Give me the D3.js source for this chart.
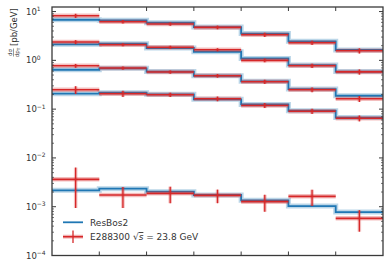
<!DOCTYPE html>
<html><head><meta charset="utf-8">
<script src="https://cdn.jsdelivr.net/npm/d3@7"></script>
<style>body{margin:0;background:#fff}svg{display:block;font-family:"DejaVu Sans",sans-serif}</style>
</head><body><svg id="c" width="390" height="267"></svg>
<script>
const binEdges = [0, 0.2, 0.4, 0.6, 0.8, 1.0, 1.2, 1.4];
const theory1 = [6.79, 6.6, 5.9, 4.81, 3.54, 2.45, 1.63];
const theory2 = [2.13, 2.19, 1.79, 1.50, 1.09, 0.80, 0.59];
const theory3 = [0.641, 0.685, 0.589, 0.483, 0.371, 0.258, 0.188];
const theory4 = [0.207, 0.217, 0.201, 0.159, 0.125, 0.0927, 0.0673];
const theory5 = [0.00217, 0.00234, 0.00203, 0.00174, 0.00135, 0.00103, 0.000778];
const data1 = [8.2, 6.18, 5.55, 4.74, 3.35, 2.30, 1.57];
const data2 = [2.37, 2.09, 1.85, 1.65, 1.0, 0.774, 0.58];
const data3 = [0.774, 0.695, 0.575, 0.483, 0.364, 0.25, 0.163];
const data4 = [0.25, 0.207, 0.197, 0.163, 0.119, 0.0906, 0.0651];
const data5 = [0.00364, 0.00174, 0.00188, 0.00171, 0.00127, 0.00163, 0.000578];
const err1 = [0.8, 0.5, 0.45, 0.4, 0.33, 0.23, 0.19];
const err2 = [0.22, 0.15, 0.13, 0.12, 0.09, 0.08, 0.07];
const err3 = [0.07, 0.05, 0.045, 0.04, 0.035, 0.027, 0.023];
const err4 = [0.045, 0.03, 0.02, 0.018, 0.014, 0.011, 0.009];
const err5 = [0.0027, 0.0008, 0.0007, 0.00053, 0.00048, 0.0006, 0.00027];
const yTickExps = [-4, -3, -2, -1, 0, 1];
const legendLabels = ["ResBos2", "E288300 "];

const theories = [theory1, theory2, theory3, theory4, theory5];
const datas = [data1, data2, data3, data4, data5];
const errs = [err1, err2, err3, err4, err5];

const svg = d3.select("#c");
const L = 52, R = 383, T = 7, B = 255.5;
const x = d3.scaleLinear().domain([binEdges[0], binEdges[binEdges.length-1]]).range([L, R]);
const y = d3.scaleLog().domain([1e-4, 12.4]).range([B, T]);
const blue = "#1f77b4", red = "#d62728";

const plot = svg.append("g");
// theory step lines
theories.forEach(th => {
  const pts = [];
  th.forEach((v, i) => { pts.push([binEdges[i], v]); pts.push([binEdges[i+1], v]); });
  const line = d3.line().x(d => x(d[0])).y(d => y(d[1]));
  plot.append("path").attr("d", line(pts)).attr("fill", "none")
    .attr("stroke", blue).attr("stroke-opacity", 0.3).attr("stroke-width", 5);
  plot.append("path").attr("d", line(pts)).attr("fill", "none")
    .attr("stroke", blue).attr("stroke-width", 1.8);
});
// data
datas.forEach((dv, g) => {
  dv.forEach((v, i) => {
    const x0 = x(binEdges[i]), x1 = x(binEdges[i+1]), xm = (x0 + x1) / 2;
    plot.append("line").attr("x1", x0).attr("x2", x1).attr("y1", y(v)).attr("y2", y(v))
      .attr("stroke", red).attr("stroke-opacity", 0.3).attr("stroke-width", 4.5);
    plot.append("line").attr("x1", x0).attr("x2", x1).attr("y1", y(v)).attr("y2", y(v))
      .attr("stroke", red).attr("stroke-width", 1.6);
    const e = errs[g][i];
    const lo = Math.max(v - e, 1e-5);
    plot.append("line").attr("x1", xm).attr("x2", xm).attr("y1", y(lo)).attr("y2", y(v + e))
      .attr("stroke", red).attr("stroke-opacity", 0.3).attr("stroke-width", 3.5);
    plot.append("line").attr("x1", xm).attr("x2", xm).attr("y1", y(lo)).attr("y2", y(v + e))
      .attr("stroke", red).attr("stroke-width", 1.3);
  });
});

// axes frame
const ax = svg.append("g").attr("stroke", "#3a3a3a");
ax.append("rect").attr("x", L).attr("y", T).attr("width", R - L).attr("height", B - T)
  .attr("fill", "none").attr("stroke-width", 1.3);
// x ticks (inward, top & bottom)
binEdges.slice(1, -1).forEach(e => {
  ax.append("line").attr("x1", x(e)).attr("x2", x(e)).attr("y1", T).attr("y2", T + 4).attr("stroke-width", 1);
  ax.append("line").attr("x1", x(e)).attr("x2", x(e)).attr("y1", B).attr("y2", B - 4).attr("stroke-width", 1);
});
// y ticks
yTickExps.forEach(p => {
  const yy = y(Math.pow(10, p));
  ax.append("line").attr("x1", L).attr("x2", L + 4).attr("y1", yy).attr("y2", yy).attr("stroke-width", 1);
  ax.append("line").attr("x1", R).attr("x2", R - 4).attr("y1", yy).attr("y2", yy).attr("stroke-width", 1);
  for (let m = 2; m <= 9; m++) {
    const v = m * Math.pow(10, p);
    if (v > 12.4) break;
    const ym = y(v);
    ax.append("line").attr("x1", L).attr("x2", L + 2).attr("y1", ym).attr("y2", ym).attr("stroke-width", 0.7);
    ax.append("line").attr("x1", R).attr("x2", R - 2).attr("y1", ym).attr("y2", ym).attr("stroke-width", 0.7);
  }
  const t = svg.append("text").attr("x", 26).attr("y", yy + 3).attr("font-size", 8.5).attr("fill", "#333");
  t.append("tspan").text("10");
  t.append("tspan").attr("dy", -3.5).attr("font-size", 6).text(p < 0 ? "\u2212" + (-p) : String(p));
});

// y label
const yl = svg.append("g").attr("transform", "translate(17.5,57) rotate(-90)").attr("fill", "#333");
yl.append("text").attr("x", 4.5).attr("y", -5.5).attr("font-size", 5.5).attr("text-anchor", "middle").text("d\u03C3");
yl.append("line").attr("x1", 0.5).attr("x2", 8.5).attr("y1", -4).attr("y2", -4).attr("stroke", "#333").attr("stroke-width", 0.5);
const den = yl.append("text").attr("x", 4.5).attr("y", 1).attr("font-size", 5.5).attr("text-anchor", "middle");
den.append("tspan").text("dp");
den.append("tspan").attr("font-size", 4).attr("dy", 1).text("T");
yl.append("text").attr("x", 11).attr("y", -0.5).attr("font-size", 8.5).text("[pb/GeV]");

// legend
const lg = svg.append("g");
lg.append("line").attr("x1", 63).attr("x2", 83).attr("y1", 222.3).attr("y2", 222.3).attr("stroke", blue).attr("stroke-width", 1.8);
lg.append("text").attr("x", 90).attr("y", 225.5).attr("font-size", 9).attr("fill", "#333").text(legendLabels[0]);
lg.append("line").attr("x1", 63).attr("x2", 83).attr("y1", 236.7).attr("y2", 236.7).attr("stroke", red).attr("stroke-opacity", 0.3).attr("stroke-width", 4);
lg.append("line").attr("x1", 63).attr("x2", 83).attr("y1", 236.7).attr("y2", 236.7).attr("stroke", red).attr("stroke-width", 1.6);
lg.append("line").attr("x1", 73).attr("x2", 73).attr("y1", 230.5).attr("y2", 243).attr("stroke", red).attr("stroke-width", 1.3);
const lt = lg.append("text").attr("x", 90).attr("y", 240).attr("font-size", 9).attr("fill", "#333");
lt.append("tspan").text(legendLabels[1]);
lt.append("tspan").text("\u221A");
lt.append("tspan").attr("font-style", "italic").attr("text-decoration", "overline").text("s");
lt.append("tspan").text(" = 23.8 GeV");
</script></body></html>
